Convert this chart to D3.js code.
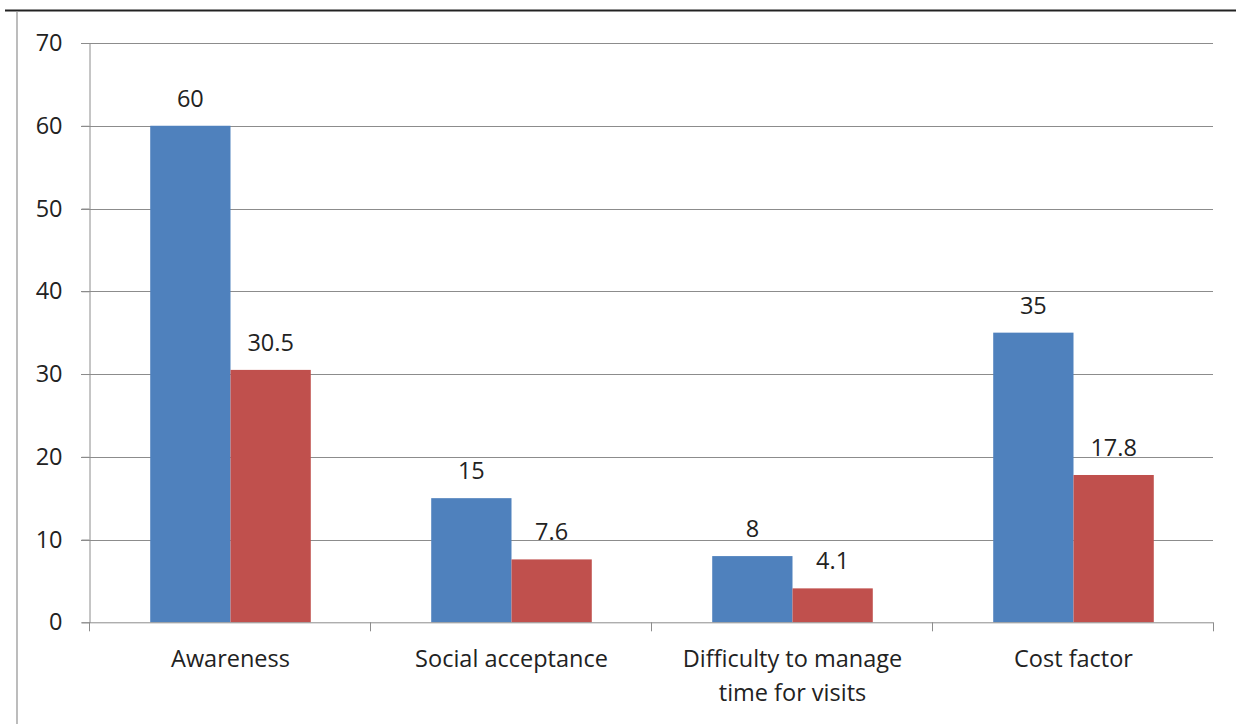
<!DOCTYPE html>
<html><head><meta charset="utf-8">
<script src="https://cdn.jsdelivr.net/npm/d3@7"></script>
<style>html,body{margin:0;padding:0;background:#fff;}svg{display:block;}</style>
</head><body>
<svg id="c" width="1236" height="724"></svg>
<script>
const categories = [["Awareness"], ["Social acceptance"], ["Difficulty to manage", "time for visits"], ["Cost factor"]];
const seriesA = [60, 15, 8, 35];
const seriesB = [30.5, 7.6, 4.1, 17.8];
const yTicks = [0, 10, 20, 30, 40, 50, 60, 70];
const colors = ["#4F81BD", "#C0504D"];

const svg = d3.select("#c");
const font = "'Open Sans', sans-serif";
const fs = 23.5;
const L = 89, R = 1213, T = 43, B = 622.3;

// frame
svg.append("line").attr("x1", 5).attr("x2", 1236).attr("y1", 10.5).attr("y2", 10.5).attr("stroke", "#222").attr("stroke-width", 2);
svg.append("line").attr("x1", 17).attr("x2", 17).attr("y1", 11).attr("y2", 724).attr("stroke", "#999").attr("stroke-width", 1.3);

const y = d3.scaleLinear().domain([0, 70]).range([B, T]);
const x0 = d3.scaleBand().domain(d3.range(categories.length)).range([L, R]).paddingInner(0).paddingOuter(0);
const x1 = d3.scaleBand().domain([0, 1]).range([0, x0.bandwidth()]).paddingInner(0).paddingOuter(0.75);

// gridlines
svg.append("g").selectAll("line").data(yTicks.filter(d => d > 0)).join("line")
  .attr("x1", L - 8).attr("x2", R).attr("y1", d => Math.round(y(d)) + 0.5).attr("y2", d => Math.round(y(d)) + 0.5)
  .attr("stroke", "#8c8c8c").attr("stroke-width", 1);

// y axis
const yAxis = d3.axisLeft(y).tickValues(yTicks).tickSize(8).tickPadding(19);
const gy = svg.append("g").attr("transform", `translate(${L + 0.5},0)`).call(yAxis);
gy.select(".domain").attr("stroke", "#8c8c8c");
gy.selectAll(".tick line").attr("stroke", "#8c8c8c");
gy.selectAll("text").attr("font-family", font).attr("font-size", fs).attr("fill", "#222");

// bars
const series = [seriesA, seriesB];
const groups = svg.append("g").selectAll("g").data(series).join("g").attr("fill", (d, i) => colors[i]);
groups.each(function(vals, si) {
  d3.select(this).selectAll("rect").data(vals).join("rect")
    .attr("x", (d, i) => x0(i) + x1(si) + 1)
    .attr("width", x1.bandwidth())
    .attr("y", d => y(d))
    .attr("height", d => B - y(d));
  d3.select(this).selectAll("text").data(vals).join("text")
    .attr("x", (d, i) => x0(i) + x1(si) + x1.bandwidth() / 2 + 1)
    .attr("y", d => y(d) - 19)
    .attr("text-anchor", "middle")
    .attr("font-family", font).attr("font-size", fs).attr("fill", "#222")
    .text(d => d);
});

// x axis
const gx = svg.append("g").attr("transform", `translate(0,${B})`);
gx.append("line").attr("x1", L).attr("x2", R).attr("y1", 0.5).attr("y2", 0.5).attr("stroke", "#8c8c8c");
gx.selectAll("line.t").data(d3.range(categories.length + 1)).join("line").attr("class", "t")
  .attr("x1", i => Math.round(L + i * x0.bandwidth()) + 0.5).attr("x2", i => Math.round(L + i * x0.bandwidth()) + 0.5)
  .attr("y1", 0).attr("y2", 9).attr("stroke", "#8c8c8c");
const lbl = gx.selectAll("text").data(categories).join("text")
  .attr("font-family", font).attr("font-size", fs).attr("fill", "#222").attr("text-anchor", "middle");
lbl.each(function(lines, i) {
  d3.select(this).selectAll("tspan").data(lines).join("tspan")
    .attr("x", x0(i) + x0.bandwidth() / 2 + 1)
    .attr("y", (d, j) => 45 + j * 34)
    .text(d => d);
});
</script>
</body></html>
